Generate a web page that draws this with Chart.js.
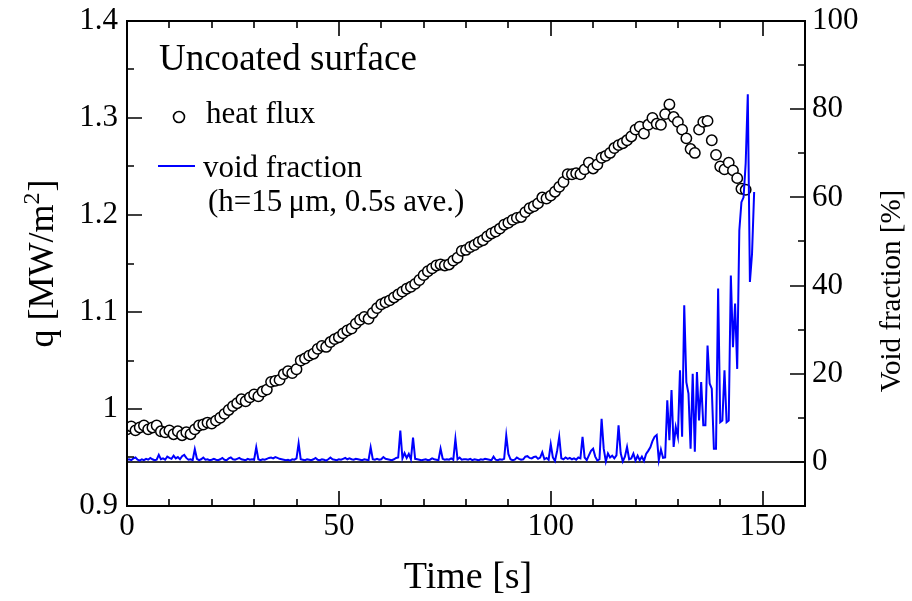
<!DOCTYPE html>
<html><head><meta charset="utf-8">
<script src="https://cdn.jsdelivr.net/npm/chart.js@4.4.1/dist/chart.umd.min.js"></script>
<style>html,body{margin:0;padding:0;background:#fff;}canvas{display:block;}</style>
</head><body>
<canvas id="c" width="912" height="601"></canvas>
<script>
// ---- data ----
const timeTicks = [0, 50, 100, 150];
const qTicks = [0.9, 1.0, 1.1, 1.2, 1.3, 1.4];
const vfTicks = [0, 20, 40, 60, 80, 100];

const heatFluxStart = 0, heatFluxStep = 1; // s
const heatFlux = [
 0.979,0.982,0.978,0.981,0.983,0.979,0.981,0.983,0.977,0.976,
 0.978,0.974,0.977,0.973,0.976,0.974,0.979,0.983,0.984,0.986,
 0.985,0.988,0.991,0.995,0.999,1.003,1.006,1.010,1.008,1.012,
 1.015,1.013,1.018,1.020,1.028,1.029,1.030,1.036,1.039,1.037,
 1.041,1.050,1.052,1.055,1.057,1.062,1.065,1.064,1.069,1.072,
 1.074,1.078,1.081,1.083,1.088,1.092,1.095,1.093,1.099,1.104,
 1.108,1.110,1.112,1.115,1.118,1.121,1.124,1.126,1.129,1.133,
 1.138,1.142,1.145,1.148,1.149,1.148,1.149,1.153,1.156,1.163,
 1.164,1.167,1.169,1.172,1.174,1.178,1.181,1.183,1.186,1.190,
 1.192,1.195,1.197,1.198,1.203,1.207,1.209,1.212,1.218,1.217,
 1.220,1.224,1.229,1.234,1.242,1.242,1.243,1.242,1.247,1.254,
 1.248,1.252,1.259,1.261,1.264,1.269,1.272,1.274,1.277,1.281,
 1.288,1.291,1.284,1.293,1.300,1.294,1.293,1.304,1.314,1.301,
 1.296,1.288,1.279,1.268,1.264,1.288,1.296,1.297,1.277,1.262,
 1.250,1.247,1.254,1.246,1.238,1.227,1.226
];

const voidStart = 0, voidStep = 0.5; // s
const voidFraction = [
 0.5,0.6,0.4,0.8,1.0,0.5,0.3,0.6,0.4,0.7,0.5,0.9,0.6,0.4,0.5,1.6,0.6,0.8,0.5,1.2,
 0.9,0.7,1.4,0.8,1.1,0.6,1.3,1.6,0.9,0.5,0.6,0.4,2.9,0.7,0.4,0.6,1.0,0.5,0.6,0.4,
 0.5,0.7,0.5,0.4,0.6,0.9,0.5,0.4,0.8,1.0,0.6,0.5,0.7,0.9,0.6,0.5,0.4,0.7,0.5,0.6,
 0.5,3.3,0.6,0.4,0.6,0.5,0.7,0.9,1.0,0.8,1.1,0.9,0.7,0.6,0.5,0.4,0.5,0.3,0.6,0.5,
 0.8,4.2,0.6,0.5,0.4,0.6,0.5,0.4,0.6,0.9,0.5,0.4,0.6,0.5,0.3,0.6,1.0,0.6,0.5,0.4,
 0.6,0.5,0.7,0.9,0.6,0.8,0.6,0.5,0.7,0.6,0.5,0.4,0.6,0.5,0.4,3.3,0.6,0.5,0.7,0.5,
 0.6,1.1,0.7,0.6,0.5,0.4,0.6,0.9,1.0,7.1,0.8,2.0,0.9,1.8,0.6,5.5,0.7,0.6,0.5,0.4,
 0.5,0.6,0.4,0.5,0.8,0.6,0.5,0.4,3.0,0.7,0.5,0.6,0.5,0.8,0.5,5.2,0.6,1.0,0.5,0.6,
 0.6,0.5,0.7,0.4,0.6,0.5,0.4,0.6,0.5,0.7,0.6,0.5,0.4,1.2,0.5,0.4,0.6,0.5,0.7,6.0,
 1.8,0.6,0.4,0.5,1.0,0.7,0.5,0.6,1.2,1.3,0.9,0.8,1.1,1.2,0.7,1.0,2.2,0.6,0.9,0.5,
 4.0,1.0,0.2,2.5,5.7,0.8,0.6,1.0,0.7,0.9,0.6,0.8,0.5,1.0,0.8,5.7,1.0,0.4,1.5,2.5,
 3.0,1.2,0.3,0.6,9.8,3.0,0.1,1.9,1.0,1.4,0.8,1.5,8.3,2.0,0.1,1.2,3.4,0.6,0.8,1.9,
 0.3,1.4,0.4,1.2,0.2,1.8,2.5,3.3,4.7,5.7,6.1,0.4,2.8,0.9,1.0,14.0,4.9,16.3,3.4,7.9,
 5.7,20.8,5.7,35.5,18.1,15.5,3.0,20.0,2.3,20.4,9.4,18.1,8.3,8.3,26.4,17.8,16.6,3.0,3.0,39.3,
 9.0,9.4,20.8,9.0,9.4,42.3,26.0,35.9,21.1,52.5,58.9,60.0,67.7,83.4,40.8,47.2,61.2
];

const hfPoints = heatFlux.map((q, i) => ({x: heatFluxStart + i * heatFluxStep, y: q}));
const vfPoints = voidFraction.map((v, i) => ({x: voidStart + i * voidStep, y: v}));

const SERIF = '"Liberation Serif", "Times New Roman", serif';

const decor = {
  id: 'decor',
  beforeDatasetsDraw(chart) {
    const {ctx, chartArea: a, scales} = chart;
    const y0 = Math.round(scales.y2.getPixelForValue(0));
    ctx.save();
    ctx.strokeStyle = '#333';
    ctx.lineWidth = 2;
    ctx.beginPath();
    ctx.moveTo(a.left, y0);
    ctx.lineTo(a.right, y0);
    ctx.stroke();
    ctx.restore();
  },
  afterDatasetsDraw(chart) {
    const {ctx, chartArea: a, scales} = chart;
    ctx.save();
    ctx.strokeStyle = '#000';
    ctx.lineWidth = 2;
    ctx.strokeRect(a.left, a.top, a.right - a.left, a.bottom - a.top);
    ctx.lineWidth = 1.6;
    ctx.beginPath();
    for (let t = 10; t < 160; t += 10) {
      const px = Math.round(scales.x.getPixelForValue(t));
      const len = timeTicks.includes(t) ? 15 : 7;
      ctx.moveTo(px, a.bottom); ctx.lineTo(px, a.bottom - len);
      ctx.moveTo(px, a.top); ctx.lineTo(px, a.top + len);
    }
    for (let k = 1; k < 10; k++) {
      const q = 0.9 + k * 0.05;
      const py = Math.round(scales.y.getPixelForValue(q));
      const len = (k % 2 === 0) ? 15 : 7;
      ctx.moveTo(a.left, py); ctx.lineTo(a.left + len, py);
    }
    for (let v = 0; v < 100; v += 10) {
      const py = Math.round(scales.y2.getPixelForValue(v));
      const len = vfTicks.includes(v) ? 15 : 7;
      ctx.moveTo(a.right, py); ctx.lineTo(a.right - len, py);
    }
    ctx.stroke();
    ctx.restore();
  },
  afterDraw(chart) {
    const {ctx, chartArea: a} = chart;
    ctx.save();
    ctx.fillStyle = '#000';
    ctx.textBaseline = 'alphabetic';
    ctx.font = '37px ' + SERIF;
    ctx.textAlign = 'left';
    ctx.fillText('Uncoated surface', 159, 70);
    ctx.font = '31px ' + SERIF;
    ctx.fillText('heat flux', 206, 123);
    ctx.fillText('void fraction', 203, 177);
    ctx.fillText('(h=15\u2009\u03bcm, 0.5s ave.)', 208, 211);
    ctx.beginPath();
    ctx.arc(179, 117, 5.5, 0, Math.PI * 2);
    ctx.fillStyle = '#fff'; ctx.fill();
    ctx.lineWidth = 1.6; ctx.strokeStyle = '#000'; ctx.stroke();
    ctx.beginPath();
    ctx.moveTo(158, 166); ctx.lineTo(195, 166);
    ctx.strokeStyle = '#0000ff'; ctx.lineWidth = 2; ctx.stroke();
    ctx.fillStyle = '#000';
    ctx.font = '38px ' + SERIF;
    ctx.textAlign = 'center';
    ctx.fillText('Time [s]', (a.left + a.right) / 2 + 2, 588);
    const mainFont = '36px ' + SERIF, supFont = '24px ' + SERIF;
    ctx.font = mainFont; const w1 = ctx.measureText('q [MW/m').width;
    ctx.font = supFont; const w2 = ctx.measureText('2').width;
    ctx.font = mainFont; const w3 = ctx.measureText(']').width;
    const total = w1 + w2 + 1 + w3;
    ctx.save();
    ctx.translate(53, (a.top + a.bottom) / 2);
    ctx.rotate(-Math.PI / 2);
    ctx.textAlign = 'left';
    let sx = -total / 2;
    ctx.font = mainFont; ctx.fillText('q [MW/m', sx, 0); sx += w1;
    ctx.font = supFont; ctx.fillText('2', sx, -14); sx += w2 + 1;
    ctx.font = mainFont; ctx.fillText(']', sx, 0);
    ctx.restore();
    ctx.save();
    ctx.translate(900, 291);
    ctx.rotate(-Math.PI / 2);
    ctx.font = '29px ' + SERIF;
    ctx.textAlign = 'center';
    ctx.fillText('Void fraction [%]', 0, 0);
    ctx.restore();
    ctx.restore();
  }
};

new Chart(document.getElementById('c'), {
  type: 'scatter',
  data: {
    datasets: [
      {
        label: 'void fraction',
        data: vfPoints,
        yAxisID: 'y2',
        showLine: true,
        borderColor: '#0000ff',
        borderWidth: 2,
        pointRadius: 0,
        tension: 0,
        fill: false
      },
      {
        label: 'heat flux',
        data: hfPoints,
        yAxisID: 'y',
        showLine: false,
        pointStyle: 'circle',
        pointRadius: 5.2,
        borderWidth: 1.5,
        borderColor: '#000',
        backgroundColor: '#fff'
      }
    ]
  },
  options: {
    responsive: false,
    animation: false,
    devicePixelRatio: 1,
    layout: {padding: {top: 21, left: 0, right: 0, bottom: 0}},
    plugins: {legend: {display: false}, tooltip: {enabled: false}},
    scales: {
      x: {
        type: 'linear', min: 0, max: 160,
        afterBuildTicks: s => { s.ticks = timeTicks.map(v => ({value: v})); },
        afterFit: s => { s.height = 95; },
        grid: {display: false, drawTicks: false},
        border: {display: false},
        ticks: {font: {family: SERIF, size: 31}, color: '#000', padding: 2, maxRotation: 0,
                callback: v => String(v)}
      },
      y: {
        type: 'linear', position: 'left', min: 0.9, max: 1.4,
        afterBuildTicks: s => { s.ticks = qTicks.map(v => ({value: v})); },
        afterFit: s => { s.width = 127; },
        grid: {display: false, drawTicks: false},
        border: {display: false},
        ticks: {font: {family: SERIF, size: 31, lineHeight: 0.7}, color: '#000', padding: 9,
                callback: v => String(Math.round(v * 10) / 10)}
      },
      y2: {
        type: 'linear', position: 'right', min: -10, max: 100,
        afterBuildTicks: s => { s.ticks = vfTicks.map(v => ({value: v})); },
        afterFit: s => { s.width = 107; },
        grid: {display: false, drawTicks: false},
        border: {display: false},
        ticks: {font: {family: SERIF, size: 31, lineHeight: 0.7}, color: '#000', padding: 7,
                callback: v => String(v)}
      }
    }
  },
  plugins: [decor]
});
</script>
</body></html>
